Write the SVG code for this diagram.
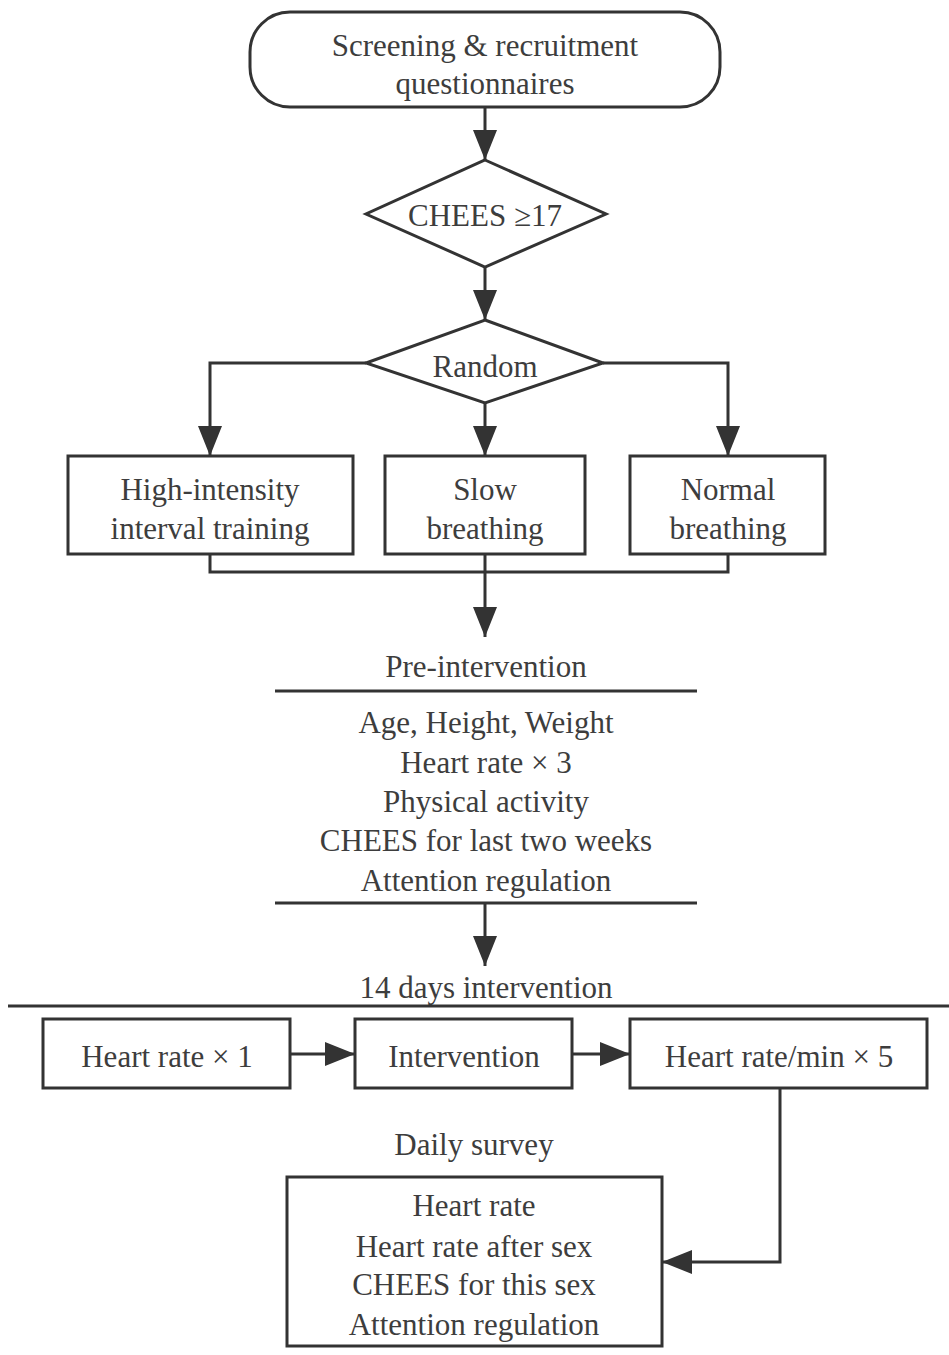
<svg xmlns="http://www.w3.org/2000/svg" width="949" height="1355" viewBox="0 0 949 1355">
<style>
.s{fill:#fff;stroke:#333;stroke-width:3}
.l{fill:none;stroke:#333;stroke-width:3}
text{font-family:'Liberation Serif','Times New Roman',serif;font-size:31px;fill:#3d3d3d;text-anchor:middle;dominant-baseline:central}
</style>
<defs>
<marker id="a" markerUnits="userSpaceOnUse" markerWidth="30" markerHeight="24" refX="30" refY="12" orient="auto" viewBox="0 0 30 24">
<path d="M0,0 L30,12 L0,24 Z" fill="#333"/>
</marker>
</defs>
<rect width="949" height="1355" fill="#fff"/>
<g id="connectors">
<line class="l" x1="485" y1="107" x2="485" y2="160" marker-end="url(#a)"/>
<line class="l" x1="485" y1="267" x2="485" y2="320" marker-end="url(#a)"/>
<polyline class="l" points="366,363 210,363 210,456" marker-end="url(#a)"/>
<polyline class="l" points="603,363 728,363 728,456" marker-end="url(#a)"/>
<line class="l" x1="485" y1="403" x2="485" y2="456" marker-end="url(#a)"/>
<polyline class="l" points="210,554 210,572 728,572 728,554"/>
<line class="l" x1="485" y1="554" x2="485" y2="637" marker-end="url(#a)"/>
<line class="l" x1="485" y1="903" x2="485" y2="966" marker-end="url(#a)"/>
<line class="l" x1="290" y1="1054" x2="355" y2="1054" marker-end="url(#a)"/>
<line class="l" x1="572" y1="1054" x2="630" y2="1054" marker-end="url(#a)"/>
<polyline class="l" points="780,1088 780,1262 662,1262" marker-end="url(#a)"/>
</g>
<g id="start">
<rect class="s" x="250" y="12" width="470" height="95" rx="40"/>
<text x="485" y="45">Screening &amp; recruitment</text>
<text x="485" y="83">questionnaires</text>
</g>
<g id="chees">
<polygon class="s" points="485,160 606,214 485,267 366,214"/>
<text x="485" y="215">CHEES ≥17</text>
</g>
<g id="random">
<polygon class="s" points="485,320 603,363 485,403 366,363"/>
<text x="485" y="366">Random</text>
</g>
<g id="hiit">
<rect class="s" x="68" y="456" width="285" height="98"/>
<text x="210" y="489">High-intensity</text>
<text x="210" y="528">interval training</text>
</g>
<g id="slow">
<rect class="s" x="385" y="456" width="200" height="98"/>
<text x="485" y="489">Slow</text>
<text x="485" y="528">breathing</text>
</g>
<g id="normal">
<rect class="s" x="630" y="456" width="195" height="98"/>
<text x="728" y="489">Normal</text>
<text x="728" y="528">breathing</text>
</g>
<g id="pre">
<text x="486" y="666">Pre-intervention</text>
<line class="l" x1="275" y1="691" x2="697" y2="691"/>
<text x="486" y="722">Age, Height, Weight</text>
<text x="486" y="762">Heart rate × 3</text>
<text x="486" y="801">Physical activity</text>
<text x="486" y="840">CHEES for last two weeks</text>
<text x="486" y="880">Attention regulation</text>
<line class="l" x1="275" y1="903" x2="697" y2="903"/>
</g>
<g id="days">
<text x="486" y="987">14 days intervention</text>
<line class="l" x1="8" y1="1006" x2="949" y2="1006"/>
</g>
<g id="hr1">
<rect class="s" x="43" y="1019" width="247" height="69"/>
<text x="167" y="1056">Heart rate × 1</text>
</g>
<g id="intervention">
<rect class="s" x="355" y="1019" width="217" height="69"/>
<text x="464" y="1056">Intervention</text>
</g>
<g id="hr5">
<rect class="s" x="630" y="1019" width="297" height="69"/>
<text x="779" y="1056">Heart rate/min × 5</text>
</g>
<g id="daily">
<text x="474" y="1144">Daily survey</text>
<rect class="s" x="287" y="1177" width="375" height="169"/>
<text x="474" y="1205">Heart rate</text>
<text x="474" y="1246">Heart rate after sex</text>
<text x="474" y="1284">CHEES for this sex</text>
<text x="474" y="1324">Attention regulation</text>
</g>
</svg>
